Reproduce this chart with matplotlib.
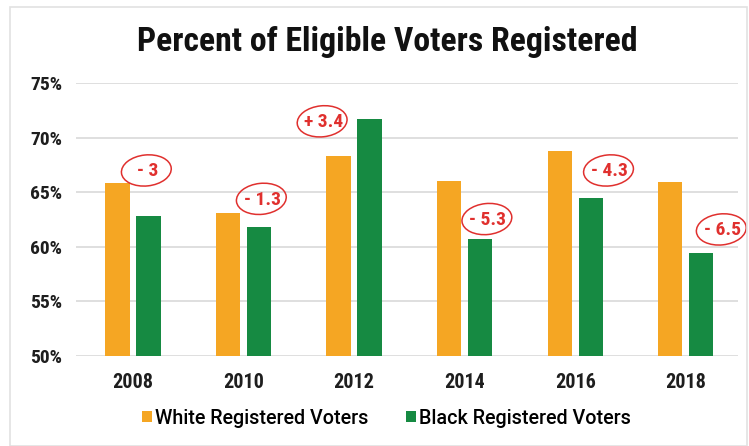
import matplotlib.pyplot as plt
import numpy as np
import matplotlib.transforms as mtransforms
from matplotlib.patches import Ellipse, Rectangle
from matplotlib import font_manager

# dane
years = ['2008', '2010', '2012', '2014', '2016', '2018']
white = [65.8, 63.1, 68.3, 66.0, 68.8, 65.9]
black = [62.8, 61.8, 71.7, 60.7, 64.5, 59.4]
gap_labels = ['- 3', '- 1.3', '+ 3.4', '- 5.3', '- 4.3', '- 6.5']
# miejsca recznych dopiskow (x w jednostkach kategorii, y w %)
gap_x = [0.13, 1.17, 1.72, 3.21, 4.31, 5.33]
gap_y = [66.9, 64.3, 71.4, 62.45, 66.9, 61.5]
yticks = [50, 55, 60, 65, 70, 75]

names = {f.name for f in font_manager.fontManager.ttflist}
cands = ['Roboto Condensed', 'Liberation Sans Narrow', 'DejaVu Sans']
fam = [c for c in cands if c in names][0]
plt.rcParams['font.family'] = [fam, 'DejaVu Sans']
leg_fam = 'Roboto' if 'Roboto' in names else 'DejaVu Sans'

orange = '#F5A623'
green = '#168A42'
red = '#E0302E'

fig = plt.figure(figsize=(7.49, 4.46), dpi=100)
ax = fig.add_axes([0.1015, 0.2018, 0.8835, 0.6121])

x = np.arange(len(years))
w = 0.22
ax.bar(x - 0.14, white, w, color=orange, label='White Registered Voters', zorder=3)
ax.bar(x + 0.14, black, w, color=green, label='Black Registered Voters', zorder=3)

ax.set_ylim(50, 75)
ax.set_xlim(-0.515, 5.47)
ax.set_yticks(yticks)
ax.set_yticklabels([f'{t}%' for t in yticks], fontsize=14, fontweight='bold', color='#1E1E1E')
ax.set_xticks(x)
ax.set_xticklabels(years, fontsize=14.5, fontweight='bold', color='#1E1E1E')
ax.tick_params(length=0)
ax.tick_params(axis='y', pad=10)
ax.tick_params(axis='x', pad=12)
for s in ax.spines.values():
    s.set_visible(False)
ax.grid(axis='y', color='#DCDCDC', linewidth=1.3, zorder=0)

for lx, ly, t in zip(gap_x, gap_y, gap_labels):
    ax.text(lx, ly, t, color=red, fontsize=14, fontweight='bold', ha='center', va='center',
            zorder=5, clip_on=False)
    tr = fig.dpi_scale_trans + mtransforms.ScaledTranslation(lx, ly, ax.transData)
    e = Ellipse((-0.01, 0.01), 0.50, 0.31, angle=6, fill=False, edgecolor=red,
                linewidth=1.1, transform=tr, zorder=5, clip_on=False)
    ax.add_patch(e)

title = fig.text(0.517, 0.905, 'Percent of Eligible Voters Registered', ha='center', va='center',
                 fontsize=20, fontweight='bold', color='#111111')
r = fig.canvas.get_renderer()
tw = title.get_window_extent(r).width
title.set_fontsize(20 * 498 / tw)

# rozmiar legendy dobrany do szerokosci tekstu
tmp = fig.text(0, 0, 'White Registered Voters', family=leg_fam, weight='medium', size=13)
leg_size = 13 * 214 / tmp.get_window_extent(r).width
tmp.remove()
px_per_em = leg_size * fig.dpi / 72

leg = fig.legend(loc='center', bbox_to_anchor=(0.516, 0.062), ncol=2, frameon=False,
                 prop={'family': leg_fam, 'size': leg_size, 'weight': 'medium'},
                 handlelength=10 / px_per_em, handleheight=10 / px_per_em,
                 handletextpad=3 / px_per_em, columnspacing=37 / px_per_em)

fig.patches.append(Rectangle((0.013, 0.0), 0.984, 0.985, transform=fig.transFigure,
                             fill=False, edgecolor='#E2E2E2', linewidth=1.2))

fig.savefig('out.png', dpi=100)
